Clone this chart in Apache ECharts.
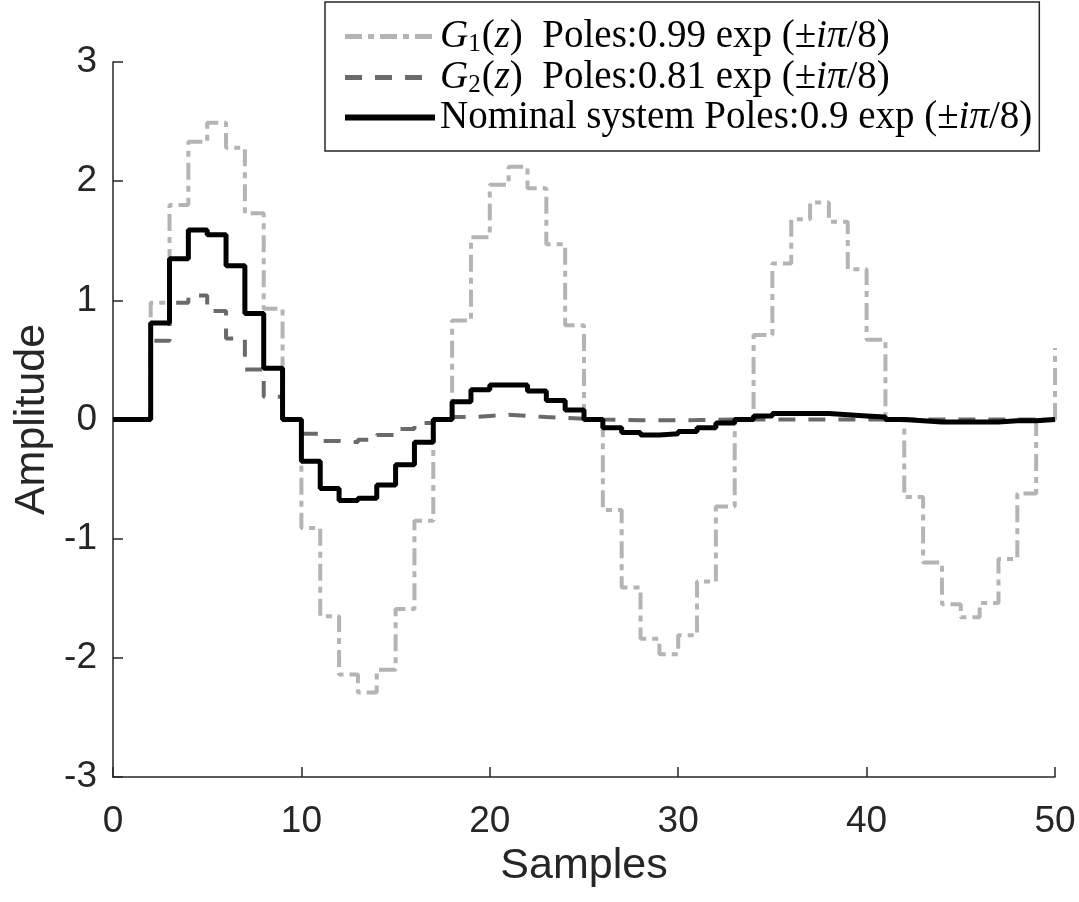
<!DOCTYPE html>
<html>
<head>
<meta charset="utf-8">
<script src="https://cdn.jsdelivr.net/npm/echarts@6/dist/echarts.min.js"></script>
<style>
html,body{margin:0;padding:0;background:#fff;}
#chart{width:1079px;height:902px;}
</style>
</head>
<body>
<div id="chart"></div>
<script>
// Sample index 0..50
const samples = [0,1,2,3,4,5,6,7,8,9,10,11,12,13,14,15,16,17,18,19,20,21,22,23,24,25,26,27,28,29,30,31,32,33,34,35,36,37,38,39,40,41,42,43,44,45,46,47,48,49,50];

// G1(z): poles 0.99 exp(±iπ/8)
const g1Values = [0,0,0.98,1.80,2.33,2.49,2.28,1.73,0.93,0.00,-0.91,-1.65,-2.14,-2.29,-2.10,-1.59,-0.85,0.00,0.83,1.53,1.97,2.12,1.94,1.47,0.79,0.00,-0.76,-1.41,-1.84,-1.97,-1.81,-1.36,-0.73,0.00,0.71,1.31,1.68,1.82,1.66,1.26,0.67,0.00,-0.65,-1.20,-1.55,-1.66,-1.54,-1.17,-0.62,0.00,0.60];

// G2(z): poles 0.81 exp(±iπ/8)
const g2Values = [0,0,0.66,0.98,1.04,0.91,0.68,0.42,0.19,0.00,-0.12,-0.18,-0.19,-0.17,-0.13,-0.08,-0.03,0.00,0.02,0.03,0.04,0.03,0.02,0.015,0.006,0.00,-0.004,-0.006,-0.007,-0.006,-0.005,-0.003,-0.001,0,0,0,0,0,0,0,0,0,0,0,0,0,0,0,0,0,0];

// Nominal system: poles 0.9 exp(±iπ/8)
const nominalValues = [0,0,0.81,1.35,1.59,1.55,1.29,0.89,0.43,0.00,-0.35,-0.58,-0.68,-0.66,-0.55,-0.38,-0.19,0.00,0.15,0.25,0.29,0.29,0.24,0.16,0.08,0.00,-0.07,-0.11,-0.13,-0.12,-0.10,-0.07,-0.03,0.00,0.03,0.05,0.05,0.05,0.04,0.03,0.02,0.00,-0.01,-0.02,-0.02,-0.02,-0.02,-0.01,-0.01,0.00,0.00];

const seriesNames = ['G1(z) Poles:0.99 exp (±iπ/8)', 'G2(z) Poles:0.81 exp (±iπ/8)', 'Nominal system Poles:0.9 exp (±iπ/8)'];
const legendRich = [
  '{it|G}{sub|1}{rm|(}{it|z}{rm|)  Poles:0.99 exp (±}{it|iπ}{rm|/8)}',
  '{it|G}{sub|2}{rm|(}{it|z}{rm|)  Poles:0.81 exp (±}{it|iπ}{rm|/8)}',
  '{rm|Nominal system Poles:0.9 exp (±}{it|iπ}{rm|/8)}'
];

const xTicks = {min:0, max:50, interval:10};
const yTicks = {min:-3, max:3, interval:1};

function pairs(vals){ return samples.map((n,i)=>[n, vals[i]]); }

const chart = echarts.init(document.getElementById('chart'), null, {renderer:'canvas'});
const sansFont = '"Liberation Sans", Arial, Helvetica, sans-serif';
const serifFont = '"Liberation Serif", "Times New Roman", serif';
const axisColor = '#262626';

const styles = [
  {color:'#b4b4b4', width:4, type:[17,6,6,6]},
  {color:'#6a6a6a', width:4, type:[17,13]},
  {color:'#000000', width:5, type:'solid'}
];

chart.setOption({
  animation:false,
  backgroundColor:'#ffffff',
  grid:{left:113, right:24, top:62, bottom:125, containLabel:false, outerBoundsMode:'none'},
  legend:{
    orient:'vertical',
    left:325, top:2,
    padding:[14,7,14,17],
    itemGap:0,
    itemWidth:90,
    itemHeight:2,
    borderColor:'#262626',
    borderWidth:1.5,
    backgroundColor:'#ffffff',
    itemStyle:{opacity:0},
    data:seriesNames.map((n,i)=>({name:n, lineStyle:{color:styles[i].color, width:styles[i].width+1, type:styles[i].type}})),
    formatter:function(name){ return legendRich[seriesNames.indexOf(name)]; },
    textStyle:{
      color:'#000',
      fontFamily:serifFont,
      fontSize:39,
      rich:{
        rm:{fontFamily:serifFont, fontSize:39, lineHeight:41, color:'#000'},
        it:{fontFamily:serifFont, fontSize:39, fontStyle:'italic', lineHeight:41, color:'#000'},
        sub:{fontFamily:serifFont, fontSize:25, lineHeight:41, padding:[16,1,0,0], color:'#000'}
      }
    }
  },
  xAxis:{
    type:'value',
    min:xTicks.min, max:xTicks.max, interval:xTicks.interval,
    name:'Samples',
    nameLocation:'middle',
    nameGap:50,
    nameTextStyle:{fontFamily:sansFont, fontSize:43, color:axisColor},
    axisLine:{show:true, onZero:false, lineStyle:{color:axisColor, width:1.5}},
    axisTick:{show:true, inside:true, length:10, lineStyle:{color:axisColor, width:1.5}},
    axisLabel:{fontFamily:sansFont, fontSize:37, color:axisColor, margin:26},
    splitLine:{show:false}
  },
  yAxis:{
    type:'value',
    min:yTicks.min, max:yTicks.max, interval:yTicks.interval,
    name:'Amplitude',
    nameLocation:'middle',
    nameGap:58,
    nameTextStyle:{fontFamily:sansFont, fontSize:43, color:axisColor},
    axisLine:{show:true, onZero:false, lineStyle:{color:axisColor, width:1.5}},
    axisTick:{show:true, inside:true, length:10, lineStyle:{color:axisColor, width:1.5}},
    axisLabel:{fontFamily:sansFont, fontSize:37, color:axisColor, margin:16},
    splitLine:{show:false}
  },
  series:[
    {
      name:seriesNames[0], type:'line', step:'end', symbol:'none',
      data:pairs(g1Values),
      lineStyle:styles[0],
      itemStyle:{color:styles[0].color},
      z:2
    },
    {
      name:seriesNames[1], type:'line', step:'end', symbol:'none',
      data:pairs(g2Values),
      lineStyle:styles[1],
      itemStyle:{color:styles[1].color},
      z:3
    },
    {
      name:seriesNames[2], type:'line', step:'end', symbol:'none',
      data:pairs(nominalValues),
      lineStyle:styles[2],
      itemStyle:{color:styles[2].color},
      z:4
    }
  ]
});
</script>
</body>
</html>
